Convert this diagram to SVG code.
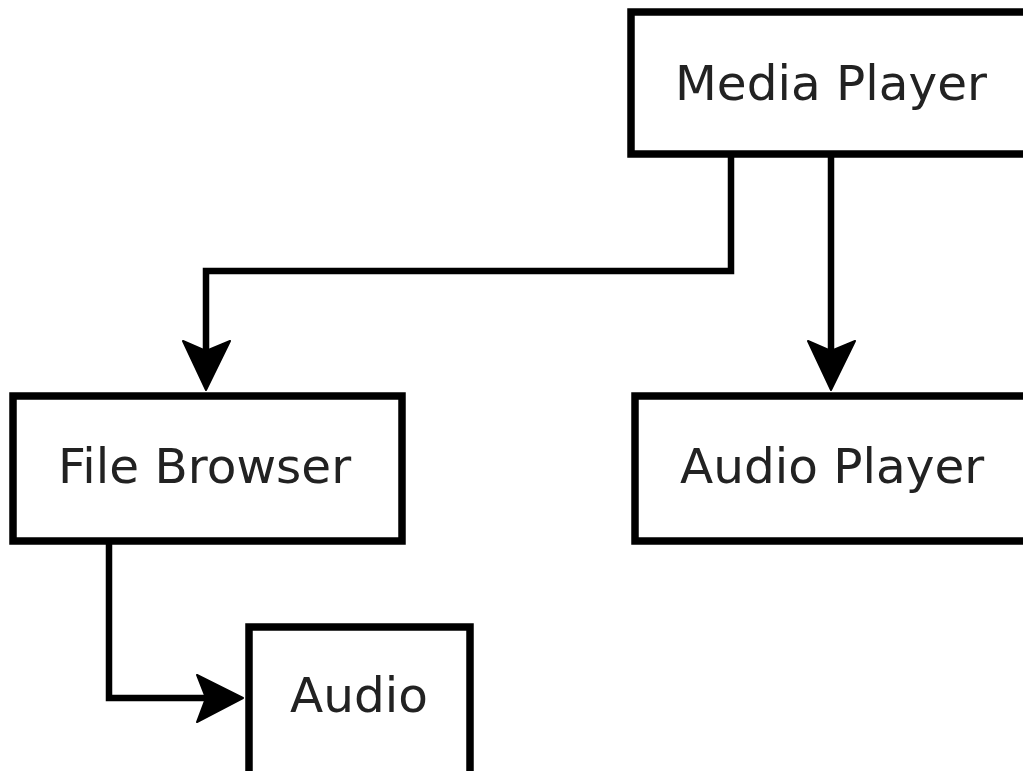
<svg xmlns="http://www.w3.org/2000/svg" width="1023" height="771" viewBox="0 0 1023 771">
  <style>
    .box { fill: #ffffff; stroke: #000000; stroke-width: 7.5; }
    .label { font-family: "DejaVu Sans", "Liberation Sans", sans-serif; font-size: 48.5px; fill: #222222; }
    .edge { fill: none; stroke: #000000; stroke-width: 6.5; stroke-linejoin: miter; }
    .head { fill: #000000; stroke: #000000; stroke-width: 2; stroke-linejoin: round; }
  </style>
  <rect width="1023" height="771" fill="#ffffff"/>

  <!-- connectors -->
  <g id="connectors">
    <!-- Media Player -> File Browser -->
    <polyline class="edge" points="731,156 731,271 206,271 206,360"/>
    <polygon class="head" points="183,341 206,390 230,341 206,351"/>
    <!-- Media Player -> Audio Player -->
    <line class="edge" x1="831" y1="156" x2="831" y2="360"/>
    <polygon class="head" points="808,341 831,390 855,341 831,351"/>
    <!-- File Browser -> Audio -->
    <polyline class="edge" points="109,543 109,698 215,698"/>
    <polygon class="head" points="197,675 243,698 197,722 206,698"/>
  </g>

  <g id="media-player">
    <rect class="box" x="631" y="12" width="400" height="142"/>
    <text class="label" x="675" y="100">Media Player</text>
  </g>

  <g id="file-browser">
    <rect class="box" x="13" y="396" width="389" height="145"/>
    <text class="label" x="58" y="483">File Browser</text>
  </g>

  <g id="audio-player">
    <rect class="box" x="635" y="396" width="400" height="145"/>
    <text class="label" x="680" y="483">Audio Player</text>
  </g>

  <g id="audio">
    <rect class="box" x="249" y="627" width="221" height="160"/>
    <text class="label" x="290" y="712">Audio</text>
  </g>
</svg>
